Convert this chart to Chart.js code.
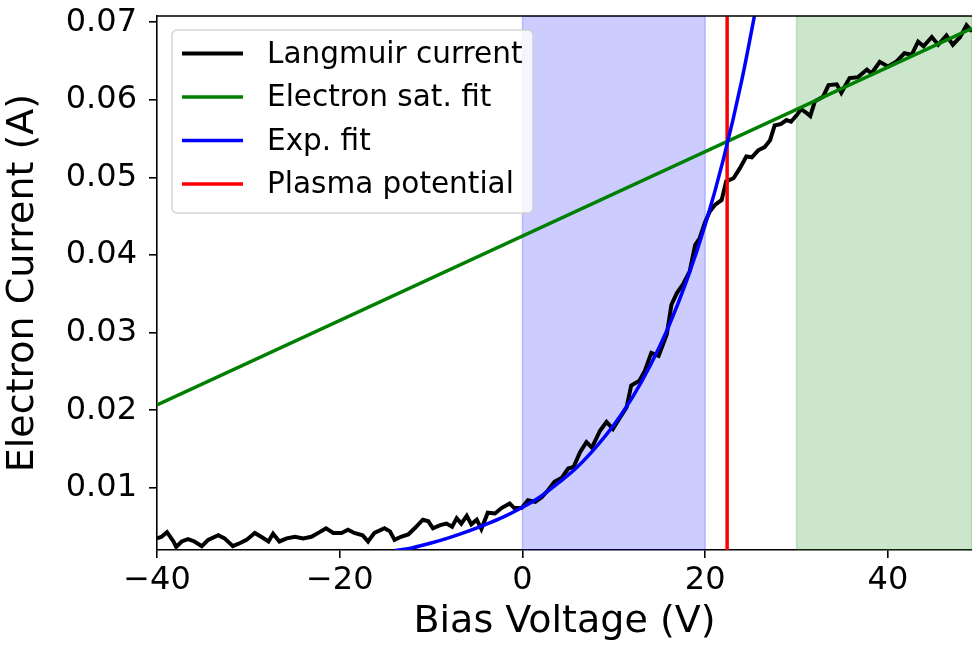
<!DOCTYPE html>
<html>
<head>
<meta charset="utf-8">
<script src="https://cdn.jsdelivr.net/npm/chart.js@4"></script>
<style>
body{margin:0;background:#fff;}
#wrap{width:972px;height:652px;}
</style>
</head>
<body>
<div id="wrap"><canvas id="chart" width="972" height="652"></canvas></div>
<script>

// measured probe trace (bias voltage V, current A)
const biasV=[-40.0,-39.5,-38.9,-38.2,-37.9,-37.3,-36.6,-35.9,-35.1,-34.4,-33.3,-32.6,-31.7,-30.9,-30.2,-29.3,-28.6,-27.8,-27.3,-26.6,-25.8,-24.9,-24.0,-23.1,-22.2,-21.5,-20.7,-19.8,-19.1,-18.4,-17.5,-16.9,-16.2,-15.1,-14.5,-14.0,-13.3,-12.5,-11.8,-10.9,-10.3,-9.8,-9.0,-8.3,-7.7,-7.2,-6.7,-6.1,-5.6,-5.0,-4.5,-3.8,-3.0,-2.3,-1.4,-0.9,-0.1,0.6,1.4,2.1,2.8,3.5,4.3,5.0,5.6,6.3,7.0,7.6,8.5,9.2,9.9,10.7,11.4,11.9,12.8,13.4,14.1,14.9,15.8,16.3,16.9,17.6,18.3,18.9,19.4,20.0,20.5,21.1,21.8,22.3,23.1,23.8,24.5,25.1,25.8,26.5,27.1,27.6,28.3,28.9,29.4,30.0,30.5,31.0,31.5,32.0,32.9,33.5,34.4,34.9,35.8,36.7,37.7,38.2,39.1,40.0,40.9,41.8,42.6,43.3,43.9,44.8,45.5,46.4,47.1,47.9,48.6,49.2];
const langI=[0.0035,0.0037,0.0043,0.0031,0.0024,0.0031,0.0034,0.0031,0.0025,0.0033,0.0039,0.0035,0.0025,0.0029,0.0033,0.0042,0.0037,0.0031,0.0041,0.0031,0.0035,0.0037,0.0035,0.0037,0.0043,0.0048,0.0042,0.0042,0.0046,0.0042,0.0039,0.0031,0.0042,0.0048,0.0044,0.0033,0.0037,0.0040,0.0048,0.0059,0.0057,0.0048,0.0052,0.0054,0.0050,0.0061,0.0054,0.0064,0.0053,0.0059,0.0047,0.0068,0.0067,0.0074,0.0080,0.0074,0.0074,0.0084,0.0082,0.0088,0.0097,0.0108,0.0113,0.0125,0.0127,0.0146,0.0159,0.0152,0.0174,0.0185,0.0176,0.0191,0.0204,0.0232,0.0238,0.0251,0.0274,0.0270,0.0298,0.0336,0.0351,0.0363,0.0379,0.0413,0.0422,0.0443,0.0456,0.0465,0.0471,0.0495,0.0499,0.0512,0.0527,0.0526,0.0535,0.0539,0.0548,0.0567,0.0569,0.0574,0.0572,0.0580,0.0588,0.0584,0.0579,0.0598,0.0604,0.0619,0.0620,0.0609,0.0628,0.0629,0.0639,0.0634,0.0649,0.0643,0.0649,0.0660,0.0658,0.0675,0.0669,0.0681,0.0671,0.0683,0.0671,0.0681,0.0696,0.0688];

// electron saturation fit (straight line)
const satFitV=[-40,49.2];
const satFitI=[0.0207,0.0692];

// exponential fit
const expFitV=[-14,-12,-10,-8,-6,-4,-2,0,2,4,6,8,10,12,14,16,18,20,22,24,26];
const expFitI=[0.0019,0.0023,0.0029,0.0036,0.0044,0.0053,0.0063,0.0075,0.0089,0.0107,0.0127,0.0152,0.0181,0.0216,0.0258,0.0308,0.0368,0.0439,0.0524,0.0625,0.0746];

const plasmaV=22.4;
const expRange=[0,20];
const satRange=[30,49.2];

const xRange=[-40,49.2];
const yRange=[0.0020,0.0708];
const xTicks=[-40,-20,0,20,40];
const yTicks=[0.01,0.02,0.03,0.04,0.05,0.06,0.07];

const legendLabels=["Langmuir current","Electron sat. fit","Exp. fit","Plasma potential"];
const legendColors=["#000000","#008000","#0000ff","#ff0000"];

function pts(xs,ys){
return xs.map((x,i)=>({x:x,y:ys[i]}));
}

const FONT="'DejaVu Sans', sans-serif";

const spans={
id:"spans",
beforeDatasetsDraw(chart){
const {ctx,chartArea:a,scales:{x}}=chart;
ctx.save();
ctx.beginPath();
ctx.rect(a.left,a.top,a.right-a.left,a.bottom-a.top);
ctx.clip();
[[expRange,"rgba(0,0,255,0.2)"],[satRange,"rgba(0,128,0,0.2)"]].forEach(([r,c])=>{
let x0=x.getPixelForValue(r[0]);
let x1=x.getPixelForValue(r[1]);
ctx.fillStyle=c;
ctx.fillRect(x0,a.top,x1-x0,a.bottom-a.top);
ctx.strokeStyle=c;
ctx.lineWidth=1.5;
ctx.strokeRect(x0,a.top,x1-x0,a.bottom-a.top);
});
ctx.restore();
}
};

const frame={
id:"frame",
afterDraw(chart){
const {ctx,chartArea:a}=chart;
ctx.save();
// top spine
ctx.strokeStyle="#000";
ctx.lineWidth=1.6;
ctx.beginPath();
ctx.moveTo(a.left,a.top);
ctx.lineTo(a.right,a.top);
ctx.stroke();

// legend box
let bx=172,by=30,bw=361,bh=183,r=5;
ctx.beginPath();
ctx.moveTo(bx+r,by);
ctx.arcTo(bx+bw,by,bx+bw,by+bh,r);
ctx.arcTo(bx+bw,by+bh,bx,by+bh,r);
ctx.arcTo(bx,by+bh,bx,by,r);
ctx.arcTo(bx,by,bx+bw,by,r);
ctx.closePath();
ctx.fillStyle="rgba(255,255,255,0.8)";
ctx.fill();
ctx.strokeStyle="rgba(204,204,204,0.8)";
ctx.lineWidth=1.5;
ctx.stroke();

ctx.font="29.5px "+FONT;
ctx.textBaseline="middle";
ctx.textAlign="left";
legendLabels.forEach((lab,i)=>{
let ly=53.5+i*43.5;
ctx.strokeStyle=legendColors[i];
ctx.lineWidth=i==0?4:3.5;
ctx.beginPath();
ctx.moveTo(182,ly);
ctx.lineTo(243,ly);
ctx.stroke();
ctx.fillStyle="#000";
ctx.fillText(lab,267,ly+1.5);
});
ctx.restore();
}
};

new Chart(document.getElementById("chart"),{
type:"line",
data:{
datasets:[
{label:legendLabels[0],data:pts(biasV,langI),borderColor:"#000",borderWidth:4,pointRadius:0,tension:0,order:3},
{label:legendLabels[1],data:pts(satFitV,satFitI),borderColor:"#008000",borderWidth:3.5,pointRadius:0,order:1},
{label:legendLabels[2],data:pts(expFitV,expFitI),borderColor:"#0000ff",borderWidth:3.5,pointRadius:0,cubicInterpolationMode:"monotone",order:0},
{label:legendLabels[3],data:[{x:plasmaV,y:yRange[0]},{x:plasmaV,y:yRange[1]}],borderColor:"#ff0000",borderWidth:3.5,pointRadius:0,order:2}
]
},
options:{
responsive:false,
animation:false,
devicePixelRatio:1,
layout:{padding:{top:16,right:0,left:0,bottom:0}},
plugins:{legend:{display:false},tooltip:{enabled:false}},
scales:{
x:{
type:"linear",
min:xRange[0],max:xRange[1],
afterBuildTicks(s){s.ticks=xTicks.map(v=>({value:v}));},
afterFit(s){s.height=102;s.paddingLeft=0;s.paddingRight=0;},
border:{color:"#000",width:1.6},
grid:{drawOnChartArea:false,color:"#000",tickLength:8,lineWidth:1.6},
ticks:{color:"#000",padding:3,maxRotation:0,font:{family:FONT,size:32},
callback:v=>String(v).replace("-","\u2212")},
title:{display:true,text:"Bias Voltage (V)",color:"#000",font:{family:FONT,size:38},padding:{top:0,bottom:7}}
},
y:{
type:"linear",
min:yRange[0],max:yRange[1],
afterBuildTicks(s){s.ticks=yTicks.map(v=>({value:v}));},
afterFit(s){s.width=157;s.paddingTop=0;s.paddingBottom=0;},
border:{color:"#000",width:1.6},
grid:{drawOnChartArea:false,color:"#000",tickLength:8,lineWidth:1.6},
ticks:{color:"#000",padding:12,font:{family:FONT,size:32},callback:v=>v.toFixed(2)},
title:{display:true,text:"Electron Current (A)",color:"#000",font:{family:FONT,size:38},padding:{top:0,bottom:7}}
}
}
},
plugins:[spans,frame]
});

</script>
</body>
</html>
